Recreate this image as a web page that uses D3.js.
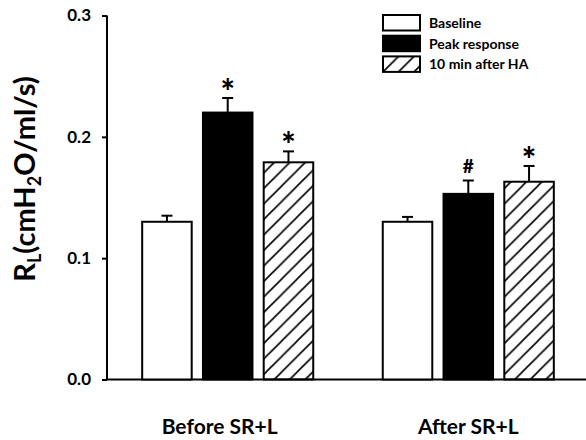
<!DOCTYPE html>
<html>
<head>
<meta charset="utf-8">
<script src="https://cdn.jsdelivr.net/npm/d3@7"></script>
<style>
  body { margin: 0; background: #fff; }
  text { font-family: Lato, "Open Sans", sans-serif; font-weight: bold; fill: #000; }
</style>
</head>
<body>
<script>
// data
const groups = ["Before SR+L", "After SR+L"];
const series = ["Baseline", "Peak response", "10 min after HA"];
const means = [[0.130, 0.220, 0.179], [0.130, 0.153, 0.163]];
const errors = [[0.005, 0.012, 0.009], [0.004, 0.011, 0.013]];
const marks = [["", "*", "*"], ["", "#", "*"]];
const yTicks = [0.0, 0.1, 0.2, 0.3];

const width = 586, height = 440;
const svg = d3.select("body").append("svg")
  .attr("width", width).attr("height", height);

const defs = svg.append("defs");
defs.append("pattern")
  .attr("id", "hatch")
  .attr("patternUnits", "userSpaceOnUse")
  .attr("width", 15.5).attr("height", 15.5)
  .append("path")
  .attr("d", "M-4,4 L4,-4 M0,15.5 L15.5,0 M11.5,19.5 L19.5,11.5")
  .attr("stroke", "#000").attr("stroke-width", 1.6);

const y = d3.scaleLinear().domain([0, 0.3]).range([379.5, 15.5]);
const x0 = d3.scaleBand().domain(groups).range([108.5, 587.5]).paddingInner(0.289).paddingOuter(0.14);
const x1 = d3.scaleBand().domain(series).range([0, x0.bandwidth()]).paddingInner(0.185);

const fills = ["#fff", "#000", "url(#hatch)"];
const labelShift = [-8, 0];

// y axis
const yAxis = svg.append("g")
  .attr("transform", "translate(107,0)")
  .call(d3.axisLeft(y).tickValues(yTicks).tickFormat(d3.format(".1f")).tickSize(5).tickPadding(11));
yAxis.select(".domain").attr("stroke-width", 2).attr("d", "M0," + y(0.3) + "V" + y(0));
yAxis.selectAll(".tick line").attr("stroke-width", 2);
yAxis.selectAll(".tick text").style("font-size", "17px").style("font-family", "Lato, sans-serif").style("font-weight", "bold");

// x axis line
svg.append("line")
  .attr("x1", 106).attr("x2", width)
  .attr("y1", y(0)).attr("y2", y(0))
  .attr("stroke", "#000").attr("stroke-width", 2);

// bars
groups.forEach((g, gi) => {
  const gEl = svg.append("g").attr("transform", "translate(" + x0(g) + ",0)");
  series.forEach((s, si) => {
    const v = means[gi][si], e = errors[gi][si];
    const bx = x1(s), bw = x1.bandwidth(), cx = bx + bw / 2;
    gEl.append("line")
      .attr("x1", cx).attr("x2", cx)
      .attr("y1", y(v)).attr("y2", y(v + e))
      .attr("stroke", "#000").attr("stroke-width", 2);
    gEl.append("line")
      .attr("x1", cx - 5.5).attr("x2", cx + 5.5)
      .attr("y1", y(v + e)).attr("y2", y(v + e))
      .attr("stroke", "#000").attr("stroke-width", 2);
    gEl.append("rect")
      .attr("x", bx).attr("width", bw)
      .attr("y", y(v)).attr("height", y(0) - y(v))
      .attr("fill", fills[si]).attr("stroke", "#000").attr("stroke-width", 2);
    if (marks[gi][si]) {
      const star = marks[gi][si] === "*";
      gEl.append("text")
        .attr("x", cx).attr("y", y(v + e) - (star ? -6 : 8))
        .attr("text-anchor", "middle")
        .style("font-size", star ? "34px" : "19px")
        .style("font-weight", "900")
        .text(marks[gi][si]);
    }
  });
  svg.append("text")
    .attr("x", x0(g) + x0.bandwidth() / 2 + labelShift[gi]).attr("y", 434)
    .attr("text-anchor", "middle")
    .style("font-size", "21px")
    .text(g);
});

// y label
const yl = svg.append("text")
  .attr("transform", "translate(35,179) rotate(-90)")
  .attr("text-anchor", "middle")
  .style("font-size", "29px");
yl.append("tspan").text("R");
yl.append("tspan").attr("dy", 6).style("font-size", "18px").text("L");
yl.append("tspan").attr("dy", -6).text("(cmH");
yl.append("tspan").attr("dy", 6).style("font-size", "18px").text("2");
yl.append("tspan").attr("dy", -6).text("O/ml/s)");

// legend
const legend = svg.append("g").attr("transform", "translate(383,15)");
series.forEach((s, i) => {
  const row = legend.append("g").attr("transform", "translate(0," + i * 20.7 + ")");
  row.append("rect")
    .attr("width", 37).attr("height", 15.5)
    .attr("fill", fills[i]).attr("stroke", "#000").attr("stroke-width", 2);
  row.append("text")
    .attr("x", 46).attr("y", 13)
    .style("font-size", "14px")
    .text(s);
});
</script>
</body>
</html>
